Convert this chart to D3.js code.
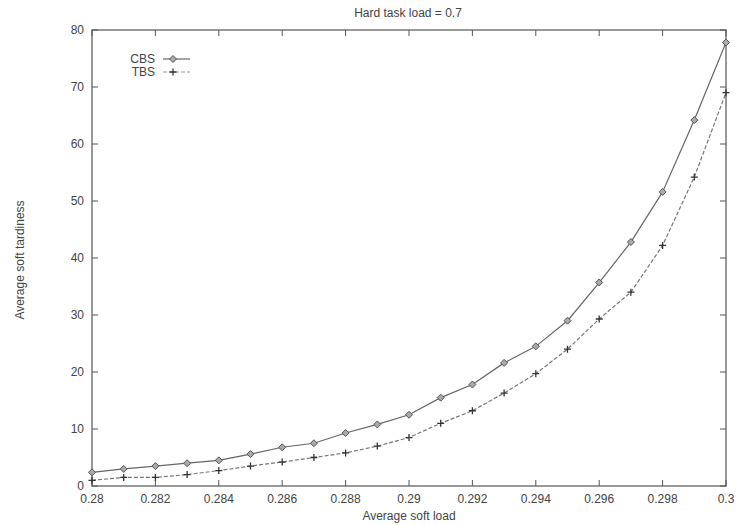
<!DOCTYPE html>
<html>
<head>
<meta charset="utf-8">
<script src="https://cdn.jsdelivr.net/npm/d3@7"></script>
<style>
  body { margin: 0; background: #fff; }
  svg { display: block; font-family: "Liberation Sans", Arial, sans-serif; }
</style>
</head>
<body>
<div id="chart"></div>
<script>
// soft load values (x)
var softLoad = [0.280, 0.281, 0.282, 0.283, 0.284, 0.285, 0.286, 0.287, 0.288, 0.289, 0.290,
                0.291, 0.292, 0.293, 0.294, 0.295, 0.296, 0.297, 0.298, 0.299, 0.300];
// average soft tardiness per server
var cbsValues = [2.4, 3.0, 3.5, 4.0, 4.5, 5.6, 6.8, 7.5, 9.3, 10.8, 12.5,
                 15.5, 17.8, 21.6, 24.5, 29.0, 35.7, 42.8, 51.6, 64.2, 77.8];
var tbsValues = [1.0, 1.5, 1.5, 2.0, 2.7, 3.5, 4.2, 5.0, 5.8, 7.0, 8.5,
                 11.0, 13.2, 16.3, 19.7, 24.0, 29.3, 34.0, 42.2, 54.2, 69.0];
var xTicks = [0.28, 0.282, 0.284, 0.286, 0.288, 0.29, 0.292, 0.294, 0.296, 0.298, 0.3];
var yTicks = [0, 10, 20, 30, 40, 50, 60, 70, 80];

var width = 736, height = 525;
var margin = {top: 30, right: 10, bottom: 39, left: 92};

var svg = d3.select('#chart').append('svg')
    .attr('width', width)
    .attr('height', height);

var x = d3.scaleLinear().domain([0.28, 0.3]).range([margin.left, width - margin.right]);
var y = d3.scaleLinear().domain([0, 80]).range([height - margin.bottom, margin.top]);

var axisColor = '#555';
var textColor = '#444';
var tickLen = 6;

// mirrored inner ticks on all four sides
var g = svg.append('g');
g.selectAll('.xt').data(xTicks).enter().append('line')
    .attr('x1', d => x(d)).attr('x2', d => x(d))
    .attr('y1', y(0)).attr('y2', y(0) - tickLen)
    .attr('stroke', axisColor);
g.selectAll('.xt2').data(xTicks).enter().append('line')
    .attr('x1', d => x(d)).attr('x2', d => x(d))
    .attr('y1', y(80)).attr('y2', y(80) + tickLen)
    .attr('stroke', axisColor);
g.selectAll('.yt').data(yTicks).enter().append('line')
    .attr('x1', x(0.28)).attr('x2', x(0.28) + tickLen)
    .attr('y1', d => y(d)).attr('y2', d => y(d))
    .attr('stroke', axisColor);
g.selectAll('.yt2').data(yTicks).enter().append('line')
    .attr('x1', x(0.3)).attr('x2', x(0.3) - tickLen)
    .attr('y1', d => y(d)).attr('y2', d => y(d))
    .attr('stroke', axisColor);

// tick labels
g.selectAll('.xl').data(xTicks).enter().append('text')
    .attr('x', d => x(d)).attr('y', y(0) + 17)
    .attr('text-anchor', 'middle')
    .attr('font-size', 12).attr('fill', textColor)
    .text(d => d3.format('')(+d.toFixed(3)));
g.selectAll('.yl').data(yTicks).enter().append('text')
    .attr('x', x(0.28) - 8).attr('y', d => y(d) + 4)
    .attr('text-anchor', 'end')
    .attr('font-size', 12).attr('fill', textColor)
    .text(d => d);

// frame
svg.append('rect')
    .attr('x', x(0.28)).attr('y', y(80))
    .attr('width', x(0.3) - x(0.28)).attr('height', y(0) - y(80))
    .attr('fill', 'none').attr('stroke', axisColor).attr('stroke-width', 1.2);

// titles
svg.append('text')
    .attr('x', 408).attr('y', 17)
    .attr('text-anchor', 'middle').attr('font-size', 12).attr('fill', textColor)
    .text('Hard task load = 0.7');
svg.append('text')
    .attr('x', 409).attr('y', 520)
    .attr('text-anchor', 'middle').attr('font-size', 12).attr('fill', textColor)
    .text('Average soft load');
svg.append('text')
    .attr('transform', 'translate(24,' + 260 + ') rotate(-90)')
    .attr('text-anchor', 'middle').attr('font-size', 12).attr('fill', textColor)
    .text('Average soft tardiness');

// series
var line = d3.line()
    .x((d, i) => x(softLoad[i]))
    .y(d => y(d));

svg.append('path')
    .datum(cbsValues)
    .attr('d', line)
    .attr('fill', 'none').attr('stroke', '#666').attr('stroke-width', 1.2);
svg.append('path')
    .datum(tbsValues)
    .attr('d', line)
    .attr('fill', 'none').attr('stroke', '#777').attr('stroke-width', 1.2)
    .attr('stroke-dasharray', '4,2');

function diamond(sel, cx, cy) {
  var r = 3.5;
  sel.append('path')
      .attr('d', 'M' + (cx - r) + ',' + cy + 'L' + cx + ',' + (cy - r) + 'L' + (cx + r) + ',' + cy + 'L' + cx + ',' + (cy + r) + 'Z')
      .attr('fill', '#aaa').attr('stroke', '#555').attr('stroke-width', 1);
}
function plus(sel, cx, cy) {
  var r = 3.5;
  sel.append('path')
      .attr('d', 'M' + (cx - r) + ',' + cy + 'H' + (cx + r) + 'M' + cx + ',' + (cy - r) + 'V' + (cy + r))
      .attr('stroke', '#333').attr('stroke-width', 1.3);
}

var marks = svg.append('g');
cbsValues.forEach((v, i) => diamond(marks, x(softLoad[i]), y(v)));
tbsValues.forEach((v, i) => plus(marks, x(softLoad[i]), y(v)));

// legend
var legend = svg.append('g');
legend.append('text').attr('x', 155).attr('y', 63)
    .attr('text-anchor', 'end').attr('font-size', 12).attr('fill', textColor).text('CBS');
legend.append('line').attr('x1', 163).attr('x2', 190).attr('y1', 59).attr('y2', 59)
    .attr('stroke', '#666').attr('stroke-width', 1.2);
diamond(legend, 173, 59);
legend.append('text').attr('x', 155).attr('y', 76)
    .attr('text-anchor', 'end').attr('font-size', 12).attr('fill', textColor).text('TBS');
legend.append('line').attr('x1', 163).attr('x2', 190).attr('y1', 72).attr('y2', 72)
    .attr('stroke', '#999').attr('stroke-width', 1.2).attr('stroke-dasharray', '4,2');
plus(legend, 173, 72);
</script>
</body>
</html>
